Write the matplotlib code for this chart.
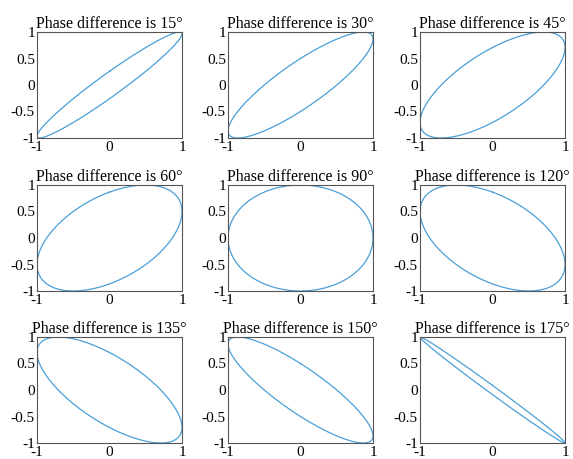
import matplotlib
matplotlib.use("Agg")
import matplotlib.pyplot as plt
import numpy as np

PHASES = [15, 30, 45, 60, 90, 120, 135, 150, 175]   # degrees
XTICKS = [-1, 0, 1]
YTICKS = [-1, -0.5, 0, 0.5, 1]
YTICKLABELS = ["-1", "-0.5", "0", "0.5", "1"]
LINE = "#4a9fd8"
FRAME = "#555555"

plt.rcParams["font.family"] = ["Liberation Serif", "DejaVu Serif"]
plt.rcParams["font.size"] = 11

W, H = 573, 459
fig = plt.figure(figsize=(W / 100, H / 100), dpi=100)

# axes boxes in pixels: left edges, top edges, width, height
lefts = [37, 228, 420]
tops = [32, 185, 337]
aw, ah = 145, 106

t = np.linspace(0, 2 * np.pi, 721)
for k, ph in enumerate(PHASES):
    r, c = divmod(k, 3)
    ax = fig.add_axes([lefts[c] / W, 1 - (tops[r] + ah) / H, aw / W, ah / H])
    ax.plot(np.sin(t), np.sin(t + np.deg2rad(ph)), color=LINE, lw=0.9)
    ax.set_xlim(-1, 1)
    ax.set_ylim(-1, 1)
    ax.set_xticks(XTICKS)
    ax.set_xticklabels([str(v) for v in XTICKS])
    ax.set_yticks(YTICKS)
    ax.set_yticklabels(YTICKLABELS)
    ax.tick_params(axis="y", length=0, pad=1.5, labelsize=11)
    ax.tick_params(axis="x", length=0, pad=2.5, labelsize=11)
    for s in ax.spines.values():
        s.set_color(FRAME)
        s.set_linewidth(0.8)
    ax.set_title(f"Phase difference is {ph}\u00b0", fontsize=11.5, pad=3)

fig.savefig("out.png", dpi=100)
